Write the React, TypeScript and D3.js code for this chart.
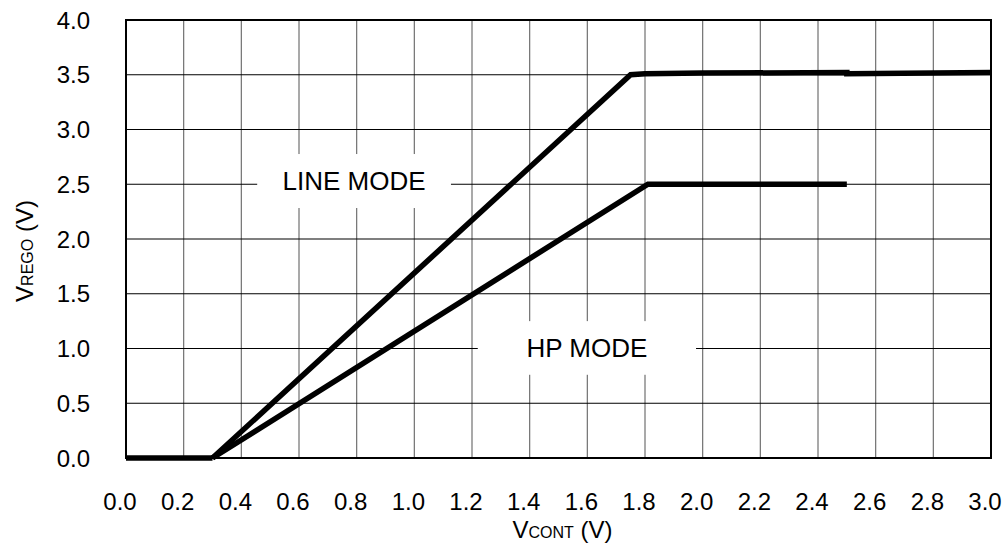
import * as d3 from "d3";

const W = 1006;
const H = 556;
const MARGIN = { top: 20, right: 15, bottom: 98, left: 126 };

type Pt = { x: number; y: number };

// V_CONT (V) tick values and V_REGO (V) tick values
const xTicks = d3.range(0, 16).map((i) => +(i * 0.2).toFixed(1));
const yTicks = d3.range(0, 9).map((i) => i * 0.5);

// curves
const offSegment: Pt[] = [
  { x: 0.0, y: 0.0 },
  { x: 0.3, y: 0.0 },
];
const lineMode: Pt[] = [
  { x: 0.3, y: 0.0 },
  { x: 1.75, y: 3.5 },
  { x: 1.8, y: 3.51 },
  { x: 2.0, y: 3.515 },
  { x: 2.5, y: 3.52 },
  { x: 2.5, y: 3.51 },
  { x: 3.0, y: 3.52 },
];
const hpMode: Pt[] = [
  { x: 0.3, y: 0.0 },
  { x: 1.81, y: 2.5 },
  { x: 2.5, y: 2.5 },
];

// label boxes (data units: x0, x1, y0, y1)
const labels = [
  { text: "LINE MODE", x0: 0.455, x1: 1.127, y0: 2.283, y1: 2.776 },
  { text: "HP MODE", x0: 1.22, x1: 1.977, y0: 0.76, y1: 1.25 },
];

const FONT = '"Liberation Sans", Arial, sans-serif';

export default function App() {
  const xScale = d3.scaleLinear().domain([0, 3]).range([MARGIN.left, W - MARGIN.right]);
  const yScale = d3.scaleLinear().domain([0, 4]).range([H - MARGIN.bottom, MARGIN.top]);
  const line = d3
    .line<Pt>()
    .x((d) => xScale(d.x))
    .y((d) => yScale(d.y));

  const [x0, x1] = xScale.range();
  const [y0, y1] = yScale.range();

  return (
    <svg
      width={W}
      height={H}
      style={{ position: "absolute", left: 0, top: 0, background: "#fff" }}
      fontFamily={FONT}
    >
      {/* grid */}
      {xTicks.map((t) => (
        <line key={"gx" + t} x1={xScale(t)} x2={xScale(t)} y1={y1} y2={y0} stroke="#707070" strokeWidth={1.2} />
      ))}
      {yTicks.map((t) => (
        <line key={"gy" + t} x1={x0} x2={x1} y1={yScale(t)} y2={yScale(t)} stroke="#000" strokeWidth={1.2} />
      ))}

      {/* label boxes */}
      {labels.map((l) => {
        const cx = (xScale(l.x0) + xScale(l.x1)) / 2;
        const cy = (yScale(l.y0) + yScale(l.y1)) / 2;
        return (
          <g key={l.text}>
            <rect
              x={xScale(l.x0)}
              y={yScale(l.y1)}
              width={xScale(l.x1) - xScale(l.x0)}
              height={yScale(l.y0) - yScale(l.y1)}
              fill="#fff"
            />
            <text x={cx} y={cy + 9} textAnchor="middle" fontSize={26} fill="#000">
              {l.text}
            </text>
          </g>
        );
      })}

      {/* frame */}
      <rect x={x0} y={y1} width={x1 - x0} height={y0 - y1} fill="none" stroke="#000" strokeWidth={2} />

      {/* curves */}
      {[offSegment, lineMode, hpMode].map((d, i) => (
        <path key={i} d={line(d) ?? ""} fill="none" stroke="#000" strokeWidth={5.5} strokeLinejoin="miter" />
      ))}

      {/* x tick labels */}
      {xTicks.map((t) => (
        <text key={"tx" + t} x={xScale(t) - 6} y={y0 + 52} textAnchor="middle" fontSize={24} fill="#000">
          {t.toFixed(1)}
        </text>
      ))}
      {/* y tick labels */}
      {yTicks.map((t) => (
        <text key={"ty" + t} x={90} y={yScale(t) + 8.5} textAnchor="end" fontSize={24} fill="#000">
          {t.toFixed(1)}
        </text>
      ))}

      {/* axis titles */}
      <text x={(x0 + x1) / 2 + 4} y={538} textAnchor="middle" fontSize={24} fill="#000">
        V<tspan fontSize={16}>CONT</tspan> (V)
      </text>
      <text
        transform={`translate(33, ${(y0 + y1) / 2 + 12}) rotate(-90)`}
        textAnchor="middle"
        fontSize={24}
        fill="#000"
      >
        V<tspan fontSize={16}>REGO</tspan> (V)
      </text>
    </svg>
  );
}
